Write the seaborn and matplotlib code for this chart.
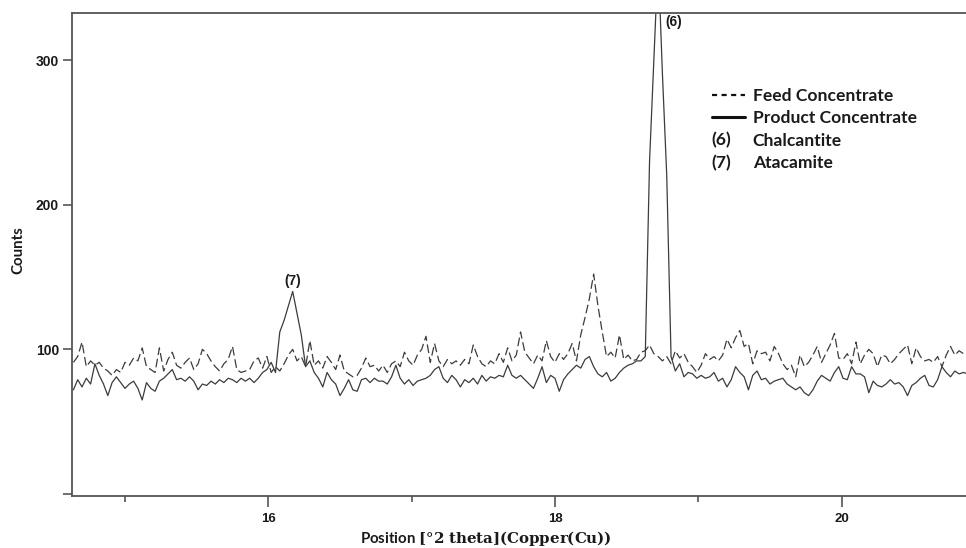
import numpy as np
import pandas as pd
import seaborn as sns
import matplotlib
matplotlib.use("Agg")
import matplotlib.pyplot as plt
from matplotlib.lines import Line2D
from matplotlib.text import Text
from matplotlib.legend_handler import HandlerBase
from matplotlib.ticker import FixedLocator

# XRD scan: 2-theta grid (start + fixed step) and measured counts
TWO_THETA_START = 14.64
TWO_THETA_STEP = 0.03

FEED_COUNTS = [
    91, 95, 105, 88, 92, 89, 91, 87, 85, 82,
    86, 84, 91, 89, 94, 92, 101, 88, 86, 84,
    101, 85, 93, 98, 89, 87, 91, 94, 86, 90,
    100, 97, 92, 88, 85, 90, 93, 102, 86, 84,
    85, 86, 92, 94, 87, 95, 84, 88, 85,
    90, 96, 100, 92, 95, 88, 106, 89, 92, 87,
    95, 91, 86, 96, 85, 83, 81, 82, 87, 94,
    88, 89, 85, 89, 84, 90, 92, 88, 98, 92,
    89, 96, 100, 109, 91, 104, 92, 88, 93, 90,
    92, 89, 93, 90, 103, 95,
    90, 88, 92, 90, 97, 91, 101, 92, 96, 112,
    98, 94, 90, 96, 92, 106, 95, 91, 97, 93,
    97, 104, 92, 110, 122, 135, 152, 130, 112, 95,
    98, 94, 110, 93, 96, 92, 93, 98, 99, 103,
    97, 95, 92, 95, 90,
    99, 94, 97, 91, 88, 84, 89, 97, 93, 95,
    92, 96, 107, 101, 108, 113, 102, 104, 90, 99,
    97, 98, 92, 102, 97, 90, 86, 89, 81, 96,
    88, 91, 96, 102, 91, 97, 103, 111, 94,
    93, 97, 90, 105, 90, 96, 100, 97, 88, 96,
    95, 90, 93, 97, 100, 103, 90, 101, 95, 92,
    93, 91, 95, 88, 96, 102, 96, 99, 97, 98,
]

PRODUCT_COUNTS = [
    72, 79, 74, 80, 76, 90, 82, 76, 68, 77,
    81, 77, 73, 76, 78, 73, 65, 77, 73, 71,
    78, 80, 83, 86, 79, 80, 78, 81, 78, 72,
    76, 75, 78, 76, 79, 77, 80, 79, 77, 80,
    78, 80, 77, 80, 84, 86, 91, 84, 112,
    120, 130, 140, 125, 110, 88, 92, 84, 80, 74,
    84, 79, 76, 68, 73, 79, 72, 71, 79, 80,
    77, 80, 78, 78, 76, 81, 89, 80, 76, 79,
    75, 78, 79, 80, 82, 86, 88, 80, 77, 82,
    79, 74, 79, 77, 80, 76,
    82, 78, 81, 80, 82, 81, 89, 82, 80, 82,
    79, 76, 73, 80, 88, 77, 82, 80, 71, 79,
    83, 86, 89, 87, 93, 95, 88, 83, 81, 84,
    78, 80, 84, 87, 89, 90, 92, 92, 95, 230,
    300, 370, 290, 220, 95,
    85, 90, 81, 84, 83, 80, 82, 80, 81, 84,
    78, 80, 74, 79, 88, 84, 81, 72, 82, 85,
    79, 80, 76, 78, 79, 80, 76, 74, 72, 74,
    70, 68, 72, 78, 82, 80, 78, 84, 88,
    80, 79, 88, 83, 83, 81, 70, 78, 75, 74,
    76, 79, 76, 77, 74, 68, 75, 77, 80, 82,
    75, 74, 79, 88, 84, 81, 85, 83, 84, 83,
]

X_MAJOR_TICKS = [16, 18, 20]
X_MINOR_TICKS = [15, 17, 19]
Y_TICKS = [0, 100, 200, 300]
Y_TICK_LABELS = ["", "100", "200", "300"]

SERIES_NAMES = ["Feed Concentrate", "Product Concentrate"]
PHASES = [("(6)", "Chalcantite"), ("(7)", "Atacamite")]

LINE_COLOR = "#3c3c3c"
AXIS_COLOR = "#555555"
TEXT_COLOR = "#1a1a1a"

sns.set_theme(style="white")
plt.rcParams["font.family"] = ["Liberation Sans", "DejaVu Sans"]
plt.rcParams["mathtext.fontset"] = "custom"
plt.rcParams["mathtext.rm"] = "DejaVu Serif"
plt.rcParams["mathtext.bf"] = "DejaVu Serif:bold"

two_theta = np.round(TWO_THETA_START + TWO_THETA_STEP * np.arange(len(FEED_COUNTS)), 2)
df = pd.DataFrame({
    "two_theta": two_theta,
    SERIES_NAMES[0]: FEED_COUNTS,
    SERIES_NAMES[1]: PRODUCT_COUNTS,
})

fig = plt.figure(figsize=(9.66, 5.48), dpi=100)
ax = fig.add_axes([0.0748, 0.0949, 0.9252, 0.8819])

sns.lineplot(data=df, x="two_theta", y=SERIES_NAMES[0], ax=ax, color=LINE_COLOR,
             linewidth=0.9, linestyle=(0, (7, 3)), estimator=None, sort=False)
sns.lineplot(data=df, x="two_theta", y=SERIES_NAMES[1], ax=ax, color=LINE_COLOR,
             linewidth=0.9, estimator=None, sort=False)

ax.set_xlim(14.632, 20.868)
ax.set_ylim(-1.4, 332.7)

# spines: frame open on the right
for side in ["left", "bottom", "top"]:
    ax.spines[side].set_color(AXIS_COLOR)
    ax.spines[side].set_linewidth(1.3)
ax.spines["right"].set_visible(False)

ax.xaxis.set_major_locator(FixedLocator(X_MAJOR_TICKS))
ax.xaxis.set_minor_locator(FixedLocator(X_MINOR_TICKS))
ax.set_xticklabels([str(t) for t in X_MAJOR_TICKS])
ax.set_yticks(Y_TICKS)
ax.set_yticklabels(Y_TICK_LABELS)

ax.tick_params(axis="x", which="major", direction="out", length=8, width=1.2,
               color=AXIS_COLOR, pad=4, labelsize=9.5, labelcolor=TEXT_COLOR,
               bottom=True, top=False)
ax.tick_params(axis="x", which="minor", direction="out", length=4, width=1.2,
               color=AXIS_COLOR, bottom=True, top=False)
ax.tick_params(axis="y", which="major", direction="out", length=6.5, width=1.2,
               color=AXIS_COLOR, pad=3, labelsize=10, labelcolor=TEXT_COLOR,
               left=True, right=False)
for lab in ax.get_xticklabels() + ax.get_yticklabels():
    lab.set_fontweight("bold")

ax.set_ylabel("Counts", fontsize=10.8, fontweight="bold", color=TEXT_COLOR,
              family=["Lato", "DejaVu Sans"])
ax.yaxis.set_label_coords(-0.053, 0.509)
ax.set_xlabel(r"Position $\mathbf{[°2\ theta](Copper(Cu))}$", fontsize=10.8,
              fontweight="bold", color=TEXT_COLOR, family=["Lato", "DejaVu Sans"])
ax.xaxis.set_label_coords(0.463, -0.068)

# phase labels at the peaks of the product pattern
prod = np.asarray(PRODUCT_COUNTS)
i6 = int(np.argmax(prod))
low = two_theta < 17
i7 = int(np.argmax(np.where(low, prod, -1)))
ax.annotate(PHASES[1][0], xy=(two_theta[i7], prod[i7]), xytext=(0, 2.5),
            textcoords="offset points", ha="center", va="bottom",
            fontsize=9.8, fontweight="bold", color=TEXT_COLOR)
ax.annotate(PHASES[0][0], xy=(two_theta[i6], 1), xycoords=("data", "axes fraction"),
            xytext=(5, -2), textcoords="offset points", ha="left", va="top",
            fontsize=9.8, fontweight="bold", color=TEXT_COLOR)


class TextKey(HandlerBase):
    """Legend key that shows a short text tag instead of a line."""

    def create_artists(self, legend, orig_handle, xdescent, ydescent, width,
                       height, fontsize, trans):
        t = Text(-xdescent, -ydescent + height / 2 - 0.5, orig_handle.get_text(),
                 fontsize=fontsize, fontweight="bold", color=TEXT_COLOR,
                 family=["Lato", "DejaVu Sans"], ha="left", va="center",
                 transform=trans)
        return [t]


handles = [
    Line2D([], [], color="#111111", linewidth=1.6, dashes=(2.3, 2.0)),
    Line2D([], [], color="#111111", linewidth=2.2),
    Text(text=PHASES[0][0]),
    Text(text=PHASES[1][0]),
]
labels = SERIES_NAMES + [PHASES[0][1], PHASES[1][1]]
leg = ax.legend(handles, labels, handler_map={Text: TextKey()},
                loc="upper left", bbox_to_anchor=(711.7 / 966, 1 - 88 / 548),
                bbox_transform=fig.transFigure, frameon=False, borderpad=0,
                borderaxespad=0, handlelength=1.92, handletextpad=0.43,
                labelspacing=0.37,
                prop={"family": ["Lato", "DejaVu Sans"], "weight": "bold", "size": 12.6})
for t in leg.get_texts():
    t.set_color(TEXT_COLOR)

fig.savefig("out.png", dpi=100, facecolor="white")
